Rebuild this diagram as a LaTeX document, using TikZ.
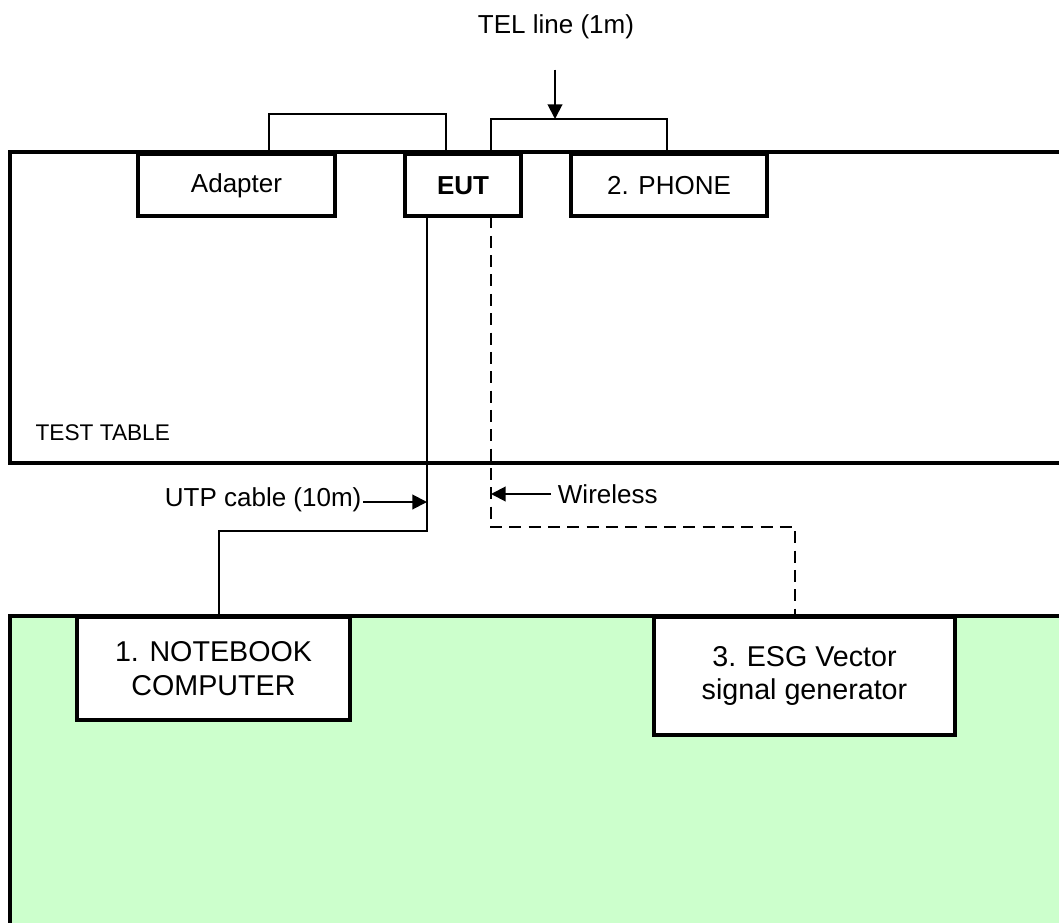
\documentclass[tikz,border=0pt]{standalone}
\usepackage{fontspec}
\setmainfont{Liberation Sans}
\usetikzlibrary{arrows.meta,calc}
\newcommand{\boxfont}{\fontsize{19.5}{24.75}\selectfont}
\newcommand{\floorfont}{\fontsize{21.5}{25}\selectfont}
\newcommand{\tablefont}{\fontsize{17}{20}\selectfont}
\definecolor{floorgreen}{HTML}{CCFFCC}
\tikzstyle{unit}=[draw, fill=white, line width=3pt, inner sep=0pt, outer sep=0pt, align=center, font=\boxfont]
\tikzstyle{area}=[draw, line width=3pt]
\tikzstyle{cable}=[draw, line width=1.5pt, -]
\tikzstyle{wireless}=[draw, line width=1.5pt, dash pattern=on 9pt off 5.5pt]
\tikzstyle{pointer}=[draw, line width=1.5pt, -{Triangle[length=11pt,width=11pt]}]
\tikzstyle{note}=[draw=none, inner sep=1pt, font=\boxfont]

\begin{document}
\begin{tikzpicture}[x=0.75pt, y=-0.75pt]
		\useasboundingbox (0,0) rectangle (1059,923);
		\clip (0,0) rectangle (1059,923);
		% First we draw the test table and the floor
		\path[area, fill=white] (10,152) rectangle (1080,463);
		\path[area, fill=floorgreen] (10,616) rectangle (1080,960);
		\node[note, anchor=west, font=\tablefont] (table) at (34,433) {TEST TABLE};
		
		% Units on the table and on the floor
		\foreach \pos/\label/\boxw/\name in {
			{(236.5,185.5)/adapter/147.75pt/Adapter},
			{(463,185.5)/eut/87pt/\textbf{EUT}},
			{(669,185.5)/phone/147pt/2. PHONE}}
		\node[unit, minimum width=\boxw, minimum height=46.5pt] (\label) at \pos {\name};
		\node[unit, font=\floorfont, minimum width=204.75pt, minimum height=77.25pt] (notebook) at (213.5,668.5) {1. NOTEBOOK\\COMPUTER};
		\node[unit, font=\floorfont, minimum width=225.75pt, minimum height=88.5pt] (esg) at (804.5,676) {3. ESG Vector\\signal generator};
		
		% Cables between the units
		\path[cable] ($(adapter.north)+(32.5,0)$) |- ($(eut.north)+(-17,-40)$) -- ($(eut.north)+(-17,0)$);
		\path[cable] ($(eut.north)+(28,0)$) |- ($(phone.north)+(-2,-35)$) -- ($(phone.north)+(-2,0)$);
		\path[cable] ($(eut.south)+(-36,0)$) |- ($(notebook.north)+(5.5,-86)$) -- ($(notebook.north)+(5.5,0)$);
		\path[wireless] ($(eut.south)+(28,0)$) |- ($(esg.north)+(-9.5,-90)$) -- ($(esg.north)+(-9.5,0)$);
		
		% Labels and their arrows
		\node[note] (tel) at (556,27) {TEL line (1m)};
		\coordinate (telin) at (555,119);
		\path[pointer] ($(tel.south)+(-1,29)$) -- (telin);
		\node[note, anchor=east] (utp) at (363,500) {UTP cable (10m)};
		\coordinate (utpin) at (427,502);
		\path[pointer] (utp.east |- utpin) -- (utpin);
		\node[note, anchor=west, inner xsep=5pt] (wless) at (551,494) {Wireless};
		\coordinate (wlessin) at (491,494);
		\path[pointer] (wless.west) -- (wlessin);
\end{tikzpicture}
\end{document}
